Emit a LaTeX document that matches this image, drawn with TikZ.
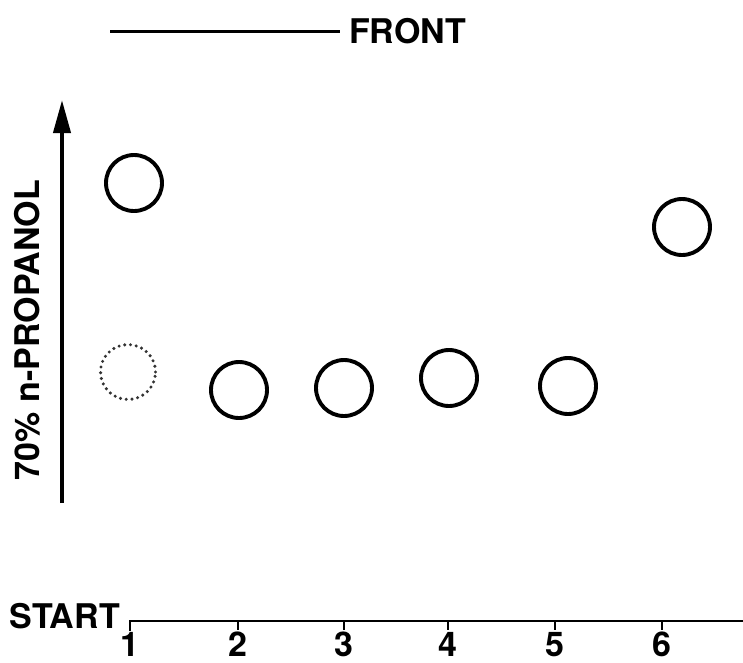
\documentclass[tikz,border=0pt]{standalone}
\usepackage{fontspec}
\setmainfont{TeX Gyre Heros}
\usetikzlibrary{arrows.meta, positioning}

\begin{document}
\begin{tikzpicture}[x=1pt, y=-1pt,
    spot/.style={circle, draw, line width=3.9pt, minimum size=56pt, inner sep=0pt},
    ghost/.style={circle, draw=black!80, line width=3.4pt, dash pattern=on 0pt off 5.8pt,
                  line cap=round, minimum size=55pt, inner sep=0pt},
    lab/.style={font=\fontsize{34}{34}\selectfont\bfseries, inner sep=0pt},
    axisline/.style={line width=2pt},
    arrow/.style={-{Triangle[length=33pt, width=17pt]}, line width=4pt}
  ]
    \useasboundingbox (0,0) rectangle (743,662);

    % solvent front
    \node[lab, anchor=west] (front) at (349,31) {FRONT};
    \coordinate (frontstart) at (110,31);
    \draw[line width=3pt, shorten >=9pt] (frontstart) -- (front.west);

    % direction of run
    \node[lab, rotate=90] (solvent) at (27,330) {70\% n-PROPANOL};
    \coordinate (runlow) at (62,503);
    \coordinate (runhigh) at (62,100);
    \draw[arrow] (runlow) -- (runhigh);

    % spots
    \node[spot] (spot1) at (134,183) {};
    \node[ghost] (ghost1) at (128,372) {};
    \node[spot] (spot2) at (239,390) {};
    \node[spot] (spot3) at (344,388) {};
    \node[spot] (spot4) at (449,378) {};
    \node[spot] (spot5) at (568,386) {};
    \node[spot] (spot6) at (682,227) {};

    % start line
    \node[lab, anchor=base east] (start) at (120,628) {START};
    \coordinate (lane1) at (130,621);
    \coordinate (lineend) at (743,621);
    \draw[axisline] ([yshift=-10pt]lane1) -- (lane1) -- (lineend);
    \node[lab, anchor=base] (num1) at (130,656) {1};
    \foreach \x/\n in {238/2, 344/3, 448/4, 555/5, 662/6} {
      \coordinate (lane\n) at (\x,621);
      \draw[axisline] (lane\n) -- ([yshift=-9pt]lane\n);
      \node[lab, anchor=base] (num\n) at (\x,656) {\n};
    }
  \end{tikzpicture}
\end{document}
